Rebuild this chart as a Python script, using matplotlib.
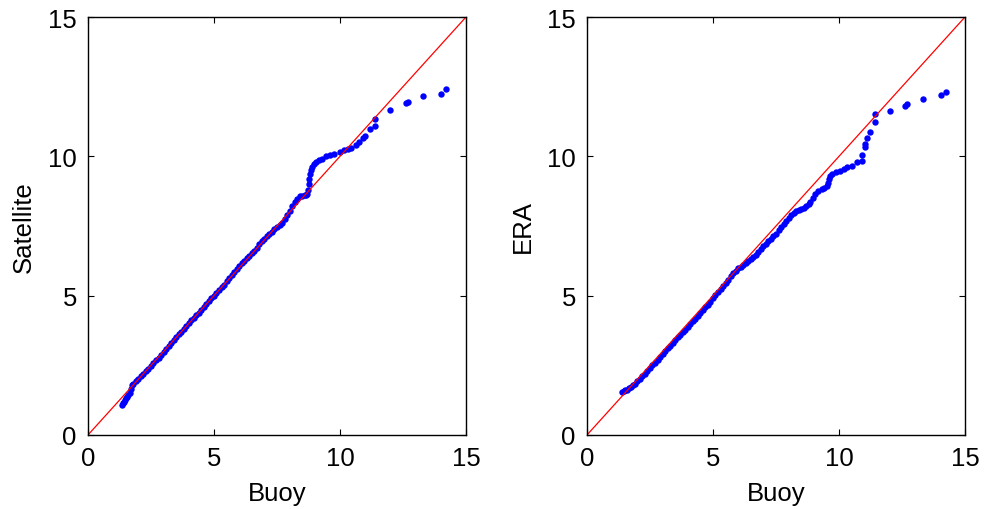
import matplotlib.pyplot as plt

plt.rcParams['font.family'] = ['Liberation Sans', 'DejaVu Sans']

# quantiles: buoy vs satellite
buoy_sat = [1.34, 1.38, 1.42, 1.46, 1.50, 1.55, 1.60, 1.65, 1.70, 1.75, 1.80, 1.90,
            2.00, 2.10, 2.20, 2.30, 2.40, 2.50, 2.60, 2.70, 2.80, 2.90,
            3.00, 3.10, 3.20, 3.30, 3.40, 3.50, 3.60, 3.70, 3.80, 3.90,
            4.00, 4.10, 4.20, 4.30, 4.40, 4.50, 4.60, 4.70, 4.80, 4.90,
            5.00, 5.10, 5.20, 5.30, 5.40, 5.50, 5.60, 5.70, 5.80, 5.90,
            6.00, 6.10, 6.20, 6.30, 6.40, 6.50, 6.60, 6.70, 6.80, 6.90,
            7.00, 7.10, 7.20, 7.30, 7.40, 7.50, 7.60, 7.70, 7.80, 7.90,
            8.00, 8.10, 8.20, 8.30, 8.40, 8.50, 8.60, 8.65, 8.70, 8.74,
            8.76, 8.78, 8.80, 8.83, 8.88, 8.95, 9.05, 9.15, 9.30, 9.45,
            9.60, 9.75, 10.00, 10.15, 10.30, 10.45, 10.62, 10.75, 10.90, 11.00,
            11.19, 11.39, 11.39, 11.98, 12.60, 12.68, 13.30, 14.00, 14.19]
sat = [1.08, 1.14, 1.20, 1.25, 1.31, 1.37, 1.45, 1.52, 1.66, 1.78, 1.84, 1.92,
       2.01, 2.10, 2.18, 2.29, 2.38, 2.47, 2.58, 2.69, 2.78, 2.88,
       2.99, 3.10, 3.20, 3.29, 3.40, 3.51, 3.61, 3.70, 3.80, 3.91,
       4.01, 4.11, 4.20, 4.29, 4.39, 4.50, 4.61, 4.71, 4.80, 4.90,
       5.00, 5.11, 5.22, 5.31, 5.40, 5.52, 5.64, 5.75, 5.86, 5.97,
       6.07, 6.17, 6.26, 6.35, 6.43, 6.52, 6.60, 6.72, 6.84, 6.95,
       7.05, 7.14, 7.22, 7.30, 7.38, 7.45, 7.52, 7.62, 7.75, 7.90,
       8.05, 8.20, 8.35, 8.48, 8.56, 8.58, 8.60, 8.62, 8.65, 8.80,
       9.00, 9.20, 9.35, 9.50, 9.62, 9.72, 9.80, 9.88, 9.92, 10.02,
       10.06, 10.08, 10.15, 10.22, 10.26, 10.30, 10.42, 10.52, 10.66, 10.72,
       10.98, 11.10, 11.34, 11.66, 11.93, 11.95, 12.15, 12.22, 12.42]

# quantiles: buoy vs ERA
buoy_era = [1.38, 1.45, 1.52, 1.60, 1.68, 1.75, 1.82, 1.90,
            2.00, 2.10, 2.20, 2.30, 2.40, 2.50, 2.60, 2.70, 2.80, 2.90,
            3.00, 3.10, 3.20, 3.30, 3.40, 3.50, 3.60, 3.70, 3.80, 3.90,
            4.00, 4.10, 4.20, 4.30, 4.40, 4.50, 4.60, 4.70, 4.80, 4.90,
            5.00, 5.10, 5.20, 5.30, 5.40, 5.50, 5.60, 5.70, 5.80, 5.90,
            6.00, 6.10, 6.20, 6.30, 6.40, 6.50, 6.60, 6.70, 6.80, 6.90,
            7.00, 7.10, 7.20, 7.30, 7.40, 7.50, 7.60, 7.70, 7.80, 7.90,
            8.00, 8.10, 8.20, 8.30, 8.40, 8.50, 8.60, 8.70, 8.80, 8.85,
            8.95, 9.05, 9.15, 9.31, 9.40, 9.51, 9.56, 9.62, 9.66, 9.71,
            9.90, 10.05, 10.20, 10.32, 10.50, 10.70, 10.90, 10.92, 11.03, 11.03,
            11.10, 11.23, 11.43, 11.43, 12.02, 12.62, 12.69, 13.32, 14.05, 14.23]
era = [1.56, 1.58, 1.60, 1.63, 1.68, 1.74, 1.78, 1.83,
       1.92, 2.01, 2.10, 2.20, 2.30, 2.40, 2.50, 2.60, 2.70, 2.80,
       2.90, 3.00, 3.11, 3.21, 3.31, 3.41, 3.50, 3.59, 3.68, 3.78,
       3.89, 3.98, 4.08, 4.18, 4.28, 4.38, 4.48, 4.58, 4.68, 4.79,
       4.90, 5.01, 5.12, 5.23, 5.35, 5.46, 5.58, 5.69, 5.80, 5.89,
       5.98, 6.04, 6.10, 6.17, 6.23, 6.30, 6.38, 6.46, 6.56, 6.66,
       6.78, 6.87, 6.95, 7.04, 7.13, 7.23, 7.34, 7.46, 7.57, 7.69,
       7.80, 7.90, 7.97, 8.03, 8.08, 8.12, 8.16, 8.22, 8.30, 8.35,
       8.50, 8.65, 8.74, 8.83, 8.88, 8.92, 9.05, 9.19, 9.30, 9.36,
       9.45, 9.48, 9.56, 9.62, 9.66, 9.80, 9.85, 10.05, 10.32, 10.44,
       10.65, 10.86, 11.22, 11.52, 11.63, 11.82, 11.88, 12.06, 12.21, 12.30]

ticks = [0, 5, 10, 15]

fig = plt.figure(figsize=(9.85, 5.10), dpi=100)
ax1 = fig.add_axes([0.0893, 0.1451, 0.3838, 0.8196])
ax2 = fig.add_axes([0.5959, 0.1451, 0.3838, 0.8196])

for ax, xq, yq, name in [(ax1, buoy_sat, sat, 'Satellite'), (ax2, buoy_era, era, 'ERA')]:
    ax.plot(xq, yq, 'o', color='#0000ff', markersize=4.6, markeredgewidth=0)
    ax.plot([0, 15], [0, 15], color='#ff0000', linewidth=0.9)
    ax.set_xlim(0, 15)
    ax.set_ylim(0, 15)
    ax.set_xticks(ticks)
    ax.set_yticks(ticks)
    ax.tick_params(direction='in', length=4.5, width=0.8, top=True, right=True,
                   labelsize=18.5, pad=8)
    ax.set_xlabel('Buoy', fontsize=18.5, labelpad=8)
    ax.set_ylabel(name, fontsize=18.5, labelpad=9)
    for s in ax.spines.values():
        s.set_linewidth(1.0)

fig.savefig('out.png', dpi=100)
